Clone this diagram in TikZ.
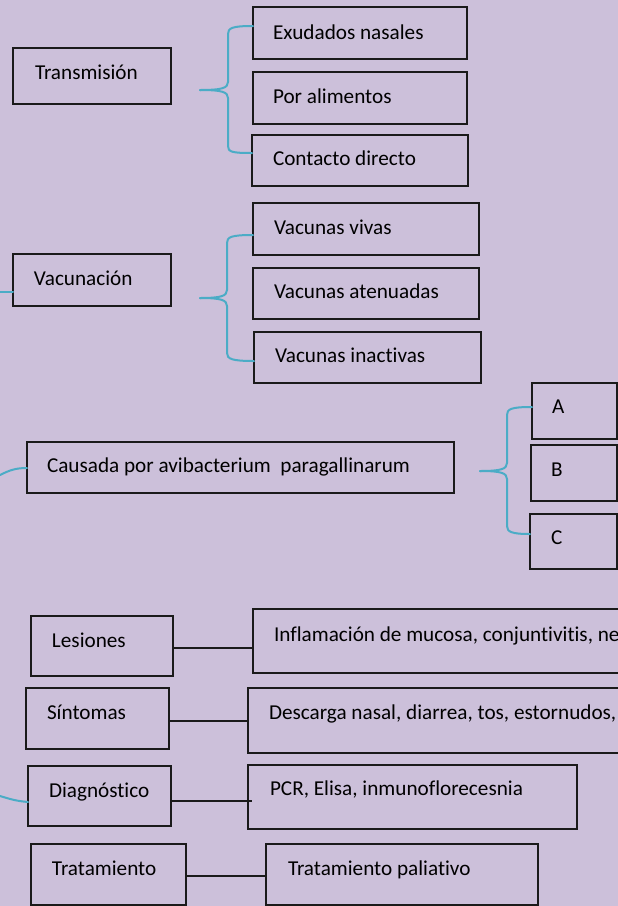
\documentclass[tikz,border=0pt]{standalone}
\usepackage{fontspec}
\setmainfont{Carlito}[Ligatures={NoCommon}]
\definecolor{bgcol}{HTML}{CCC0DA}
\definecolor{bracecol}{HTML}{4BACC6}
\definecolor{inkcol}{HTML}{1A1A1A}
\tikzset{
  box/.style={draw=inkcol, line width=1.4pt, rectangle, inner sep=0pt, outer sep=0pt},
  lbl/.style={anchor=base west, inner sep=0pt, outer sep=0pt, text=black,
              font=\fontsize{21.2}{25}\selectfont},
  bracepath/.style={draw=bracecol, line width=2pt, line cap=round},
  linkline/.style={draw=inkcol, line width=1.7pt}
}
\newcommand\mybox[5]{\node[box, minimum width={#4-#2}, minimum height={#5-#3}] (#1) at ({(#2+#4)/2},{(#3+#5)/2}) {};}
\begin{document}
\begin{tikzpicture}[x=1pt,y=-1pt]
\fill[bgcol] (0,0) rectangle (618,906);
\useasboundingbox (0,0) rectangle (618,906);
\clip (0,0) rectangle (618,906);

% ---- boxes
\mybox{trans}{13}{48}{171}{104}
\mybox{exud}{253}{7}{467}{59}
\mybox{alim}{253}{72}{467}{124}
\mybox{cont}{252}{135}{468}{186}
\mybox{vacu}{13}{254}{171}{306}
\mybox{viv}{253}{203}{479}{255}
\mybox{aten}{253}{268}{479}{319}
\mybox{inac}{254}{332}{481}{383}
\mybox{causa}{27}{442}{454}{493}
\mybox{boxA}{532}{383}{617}{439}
\mybox{boxB}{531}{445}{617}{501}
\mybox{boxC}{530}{514}{617}{569}
\mybox{les}{31}{616}{173}{676}
\mybox{infl}{253}{609}{650}{673}
\mybox{sint}{26}{688}{169}{749}
\mybox{desc}{248}{688}{650}{753}
\mybox{diag}{28}{766}{171}{826}
\mybox{pcr}{248}{765}{577}{829}
\mybox{trat}{31}{844}{186}{905}
\mybox{pali}{266}{844}{538}{905}

% ---- labels
\node[lbl] (tTrans) at (35,79) {Transmisión};
\node[lbl] (tExud) at (273,39) {Exudados nasales};
\node[lbl] (tAlim) at (273,103) {Por alimentos};
\node[lbl] (tCont) at (273,165) {Contacto directo};
\node[lbl] (tVacu) at (34,285) {Vacunación};
\node[lbl] (tViv) at (274,234) {Vacunas vivas};
\node[lbl] (tAten) at (274,298) {Vacunas atenuadas};
\node[lbl] (tInac) at (275,362) {Vacunas inactivas};
\node[lbl] (tCausa) at (47,472) {Causada por avibacterium\ \ paragallinarum};
\node[lbl] (tA) at (552,413) {A};
\node[lbl] (tB) at (551,476) {B};
\node[lbl] (tC) at (551,544) {C};
\node[lbl] (tLes) at (52,647) {Lesiones};
\node[lbl] (tInfl) at (274,641) {Inflamación de mucosa, conjuntivitis, ne};
\node[lbl] (tSint) at (47,719) {Síntomas};
\node[lbl] (tDesc) at (269,719) {Descarga nasal, diarrea, tos, estornudos,};
\node[lbl] (tDiag) at (49,797) {Diagnóstico};
\node[lbl] (tPcr) at (270,795) {PCR, Elisa, inmunoflorecesnia};
\node[lbl] (tTrat) at (52,875) {Tratamiento};
\node[lbl] (tPali) at (288,875) {Tratamiento paliativo};

% ---- brace 1 (Transmision)
\coordinate (b1tip) at (200,90);
\coordinate (b1top) at (exud.west |- 0,26);
\coordinate (b1bot) at (cont.west |- 0,153);
\draw[bracepath] (b1top) .. controls (232,26) and (228,28) .. (228,34) -- (228,82)
  .. controls (228,88) and (222,90) .. (b1tip);
\draw[bracepath] (b1tip) .. controls (222,90) and (228,92) .. (228,98) -- (228,146)
  .. controls (228,152) and (232,153) .. (b1bot);

% ---- brace 2 (Vacunacion)
\coordinate (b2tip) at (200,298);
\coordinate (b2top) at (viv.west |- 0,235);
\coordinate (b2bot) at (inac.west |- 0,361);
\draw[bracepath] (b2top) .. controls (231,235) and (227,237) .. (227,243) -- (227,290)
  .. controls (227,296) and (221,298) .. (b2tip);
\draw[bracepath] (b2tip) .. controls (221,298) and (227,300) .. (227,306) -- (227,353)
  .. controls (227,359) and (232,361) .. (b2bot);

% ---- brace 3 (A B C)
\coordinate (b3tip) at (480,471);
\coordinate (b3top) at (boxA.west |- 0,407);
\coordinate (b3bot) at (boxC.west |- 0,534);
\draw[bracepath] (b3top) .. controls (511,407) and (507,409) .. (507,415) -- (507,463)
  .. controls (507,469) and (501,471) .. (b3tip);
\draw[bracepath] (b3tip) .. controls (501,471) and (507,473) .. (507,479) -- (507,526)
  .. controls (507,532) and (512,534) .. (b3bot);

% ---- left edge brace pieces
\coordinate (e1) at (0,292);
\coordinate (e2) at (0,475);
\coordinate (e3) at (0,796);
\draw[bracepath] (e1) -- (vacu.west |- 0,292);
\draw[bracepath] (e2) .. controls (10,470) and (16,468) .. (causa.west |- 0,468);
\draw[bracepath] (e3) .. controls (10,799) and (16,801) .. (diag.west |- 0,802);

% ---- black connectors
\draw[linkline] (les.east |- 0,648) -- (infl.west |- 0,648);
\draw[linkline] (sint.east |- 0,721) -- (desc.west |- 0,721);
\draw[linkline] (diag.east |- 0,801) -- ([xshift=4pt]pcr.west |- 0,801);
\draw[linkline] (trat.east |- 0,876) -- (pali.west |- 0,876);
\end{tikzpicture}
\end{document}
